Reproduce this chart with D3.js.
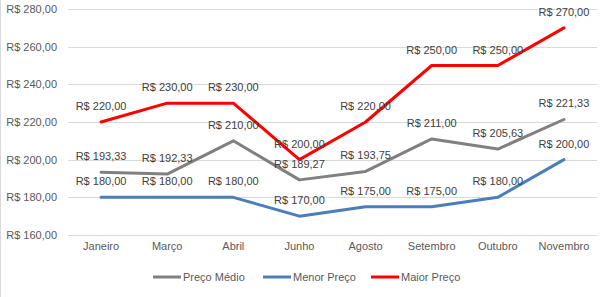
<!DOCTYPE html>
<html>
<head>
<meta charset="utf-8">
<script src="https://cdn.jsdelivr.net/npm/d3@7"></script>
<style>
  html, body { margin: 0; padding: 0; background: #fff; }
  svg { display: block; font-family: "Liberation Sans", Arial, sans-serif; }
</style>
</head>
<body>
<svg id="chart" width="610" height="297"></svg>
<script>
// Months on the category axis
const months = ["Janeiro", "Março", "Abril", "Junho", "Agosto", "Setembro", "Outubro", "Novembro"];

// Price series (R$)
const precoMedio = [193.33, 192.33, 210.00, 189.27, 193.75, 211.00, 205.63, 221.33];
const menorPreco = [180, 180, 180, 170, 175, 175, 180, 200];
const maiorPreco = [220, 230, 230, 200, 220, 250, 250, 270];

// Y-axis ticks
const yTicks = [160, 180, 200, 220, 240, 260, 280];

const seriesNames = ["Preço Médio", "Menor Preço", "Maior Preço"];
const seriesColors = ["#808080", "#4a7ebb", "#ff0000"];
const seriesValues = [precoMedio, menorPreco, maiorPreco];

const series = seriesNames.map((name, i) => ({
  name, color: seriesColors[i], values: seriesValues[i]
}));

const fmt = v => "R$ " + v.toFixed(2).replace(".", ",");

const svg = d3.select("#chart");
const plot = { left: 68, right: 597, top: 9, bottom: 235 };

const x = d3.scaleBand().domain(months).range([plot.left, plot.right]);
const y = d3.scaleLinear().domain([160, 280]).range([plot.bottom, plot.top]);

// Chart border on the left edge
svg.append("line")
  .attr("x1", 0.5).attr("x2", 0.5).attr("y1", 0).attr("y2", 297)
  .attr("stroke", "#d9d9d9");

// Horizontal gridlines
svg.append("g")
  .selectAll("line")
  .data(yTicks)
  .join("line")
  .attr("x1", plot.left).attr("x2", plot.right)
  .attr("y1", d => Math.round(y(d)) + 0.5)
  .attr("y2", d => Math.round(y(d)) + 0.5)
  .attr("stroke", "#d9d9d9").attr("stroke-width", 1);

// Y axis labels
const yAxis = d3.axisLeft(y).tickValues(yTicks).tickFormat(fmt).tickSize(0).tickPadding(11);
svg.append("g")
  .attr("transform", `translate(${plot.left},0)`)
  .call(yAxis)
  .call(g => g.select(".domain").remove())
  .call(g => g.selectAll("text")
    .attr("fill", "#595959").attr("font-size", "11px")
    .attr("font-family", "'Liberation Sans', Arial, sans-serif"));

// X axis labels
const xAxis = d3.axisBottom(x).tickSize(0).tickPadding(7);
svg.append("g")
  .attr("transform", `translate(0,${plot.bottom})`)
  .call(xAxis)
  .call(g => g.select(".domain").remove())
  .call(g => g.selectAll("text")
    .attr("fill", "#595959").attr("font-size", "11px")
    .attr("font-family", "'Liberation Sans', Arial, sans-serif"));

const cx = m => x(m) + x.bandwidth() / 2;

const line = d3.line()
  .x((d, i) => cx(months[i]))
  .y(d => y(d));

// Lines
svg.append("g")
  .selectAll("path")
  .data(series)
  .join("path")
  .attr("d", d => line(d.values))
  .attr("fill", "none")
  .attr("stroke", d => d.color)
  .attr("stroke-width", 3)
  .attr("stroke-linejoin", "round")
  .attr("stroke-linecap", "round");

// Value labels above each point
series.forEach(s => {
  svg.append("g")
    .selectAll("text")
    .data(s.values)
    .join("text")
    .attr("x", (d, i) => cx(months[i]))
    .attr("y", d => y(d) - 12)
    .attr("text-anchor", "middle")
    .attr("fill", "#404040")
    .attr("font-size", "11px")
    .text(d => fmt(d));
});

// Legend
const legendItems = [
  { name: "Preço Médio", color: seriesColors[0], x: 153 },
  { name: "Menor Preço", color: seriesColors[1], x: 263 },
  { name: "Maior Preço", color: seriesColors[2], x: 371 }
];
const lg = svg.append("g");
legendItems.forEach(it => {
  lg.append("line")
    .attr("x1", it.x).attr("x2", it.x + 28)
    .attr("y1", 277).attr("y2", 277)
    .attr("stroke", it.color).attr("stroke-width", 3);
  lg.append("text")
    .attr("x", it.x + 30).attr("y", 281)
    .attr("fill", "#595959").attr("font-size", "11px")
    .text(it.name);
});
</script>
</body>
</html>
